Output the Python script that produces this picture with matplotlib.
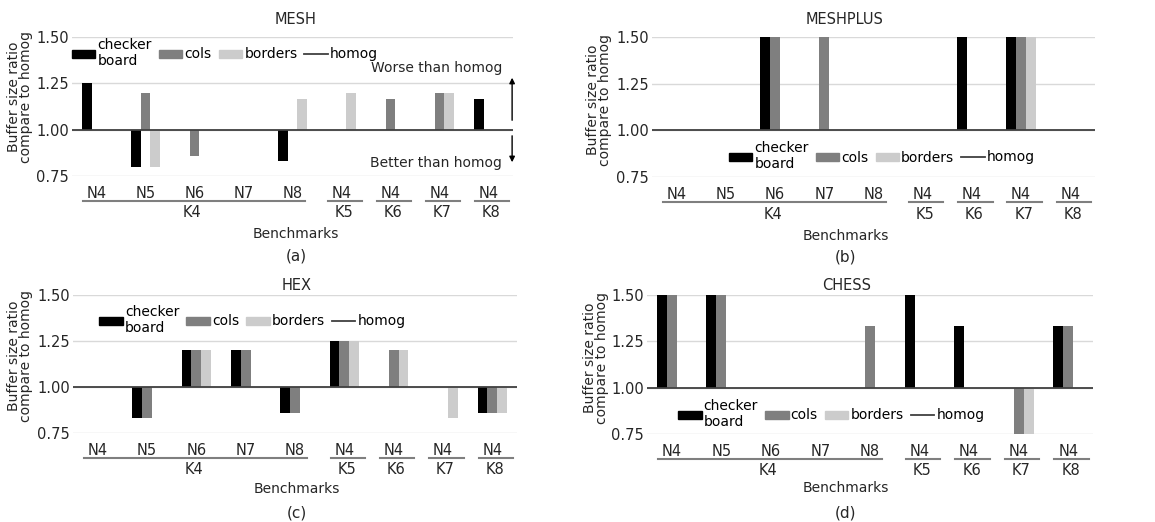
import matplotlib.pyplot as plt
from matplotlib.patches import Patch
from matplotlib.lines import Line2D

# benchmark categories (N label on axis, K group below)
n_labels = ['N4', 'N5', 'N6', 'N7', 'N8', 'N4', 'N4', 'N4', 'N4']
k_groups = [('K4', 0, 4), ('K5', 5, 5), ('K6', 6, 6), ('K7', 7, 7), ('K8', 8, 8)]
series_names = ['checker\nboard', 'cols', 'borders']
y_ticks = [0.75, 1.00, 1.25, 1.50]

# buffer size ratio vs homog, per layout
mesh_checker = [1.25, 0.80, 1.00, 1.00, 0.833, 1.00, 1.00, 1.00, 1.167]
mesh_cols = [1.00, 1.20, 0.857, 1.00, 1.00, 1.00, 1.167, 1.20, 1.00]
mesh_borders = [1.00, 0.80, 1.00, 1.00, 1.167, 1.20, 1.00, 1.20, 1.00]

meshplus_checker = [1.00, 1.00, 1.50, 1.00, 1.00, 1.00, 1.50, 1.50, 1.00]
meshplus_cols = [1.00, 1.00, 1.50, 1.50, 1.00, 1.00, 1.00, 1.50, 1.00]
meshplus_borders = [1.00, 1.00, 1.00, 1.00, 1.00, 1.00, 1.00, 1.50, 1.00]

hex_checker = [1.00, 0.833, 1.20, 1.20, 0.857, 1.25, 1.00, 1.00, 0.857]
hex_cols = [1.00, 0.833, 1.20, 1.20, 0.857, 1.25, 1.20, 1.00, 0.857]
hex_borders = [1.00, 1.00, 1.20, 1.00, 1.00, 1.25, 1.20, 0.833, 0.857]

chess_checker = [1.50, 1.50, 1.00, 1.00, 1.00, 1.50, 1.333, 1.00, 1.333]
chess_cols = [1.50, 1.50, 1.00, 1.00, 1.333, 1.00, 1.00, 0.75, 1.333]
chess_borders = [1.00, 1.00, 1.00, 1.00, 1.00, 1.00, 1.00, 0.75, 1.00]

homog = 1.0

colors = ['#000000', '#7f7f7f', '#cccccc']
W, H = 1155, 522


def fx(px):
    return px / W


def fy(py):
    return 1 - py / H


plt.rcParams['font.family'] = ['DejaVu Sans']
fig = plt.figure(figsize=(W / 100, H / 100), dpi=100)


def panel(box, series, title, cap, title_xy, xlab_xy, cap_xy, ylab_xy, leg_xy):
    left, right, top, bottom = box
    ax = fig.add_axes([fx(left), fy(bottom), (right - left) / W, (bottom - top) / H])
    x = list(range(len(n_labels)))
    for j, vals in enumerate(series):
        off = (j - 1) * 0.2
        ax.bar([i + off for i in x], [v - homog for v in vals], width=0.2,
               bottom=homog, color=colors[j], zorder=2)
    ax.plot([-0.5, len(x) - 0.5], [homog, homog], color='#404040', lw=1.3, zorder=3)
    ax.set_xlim(-0.5, len(x) - 0.5)
    ax.set_ylim(0.75, 1.5)
    ax.set_yticks(y_ticks)
    ax.set_yticklabels(['%.2f' % t for t in y_ticks])
    ax.set_xticks(x)
    ax.set_xticklabels(n_labels)
    ax.tick_params(length=0, labelsize=10.5, colors='#262626')
    ax.tick_params(axis='x', pad=7)
    ax.tick_params(axis='y', pad=2)
    ax.grid(axis='y', color='#d9d9d9', lw=1, zorder=0)
    ax.set_axisbelow(True)
    for s in ax.spines.values():
        s.set_visible(False)

    trans = ax.get_xaxis_transform()
    for name, a, b in k_groups:
        x0 = a - 0.28
        x1 = b + 0.42 if a == b else b + 0.25
        ax.plot([x0, x1], [-0.18, -0.18], color='#7f7f7f', lw=1.5,
                transform=trans, clip_on=False)
        ax.text((a + b) / 2 + (0.05 if a == b else -0.05), -0.265, name,
                transform=trans, ha='center', va='center', fontsize=10.5,
                color='#262626')

    handles = [Patch(color=c) for c in colors]
    handles.append(Line2D([0], [0], color='#404040', lw=1.3))
    ax.legend(handles, series_names + ['homog'], ncol=4, frameon=False,
              loc='center', bbox_to_anchor=leg_xy, fontsize=10,
              handlelength=1.7, handleheight=0.5, handletextpad=0.15,
              columnspacing=0.5, borderpad=0, labelspacing=0)

    fig.text(fx(title_xy[0]), fy(title_xy[1]), title, ha='center', va='center',
             fontsize=10.5, color='#262626')
    fig.text(fx(xlab_xy[0]), fy(xlab_xy[1]), 'Benchmarks', ha='center',
             va='center', fontsize=10, color='#262626')
    fig.text(fx(cap_xy[0]), fy(cap_xy[1]), cap, ha='center', va='center',
             fontsize=11, color='#262626')
    fig.text(fx(ylab_xy[0]), fy(ylab_xy[1]), 'Buffer size ratio\ncompare to homog',
             ha='center', va='center', rotation=90, fontsize=10,
             linespacing=0.8, color='#262626')
    return ax


ax_a = panel((72, 513, 37, 176), [mesh_checker, mesh_cols, mesh_borders],
             'MESH', '(a)', (296, 19), (296, 234), (296, 256), (20, 97),
             (0.347, 0.885))
panel((652, 1095, 37, 177), [meshplus_checker, meshplus_cols, meshplus_borders],
      'MESHPLUS', '(b)', (845, 19), (846, 236), (846, 257), (599, 100),
      (0.519, 0.15))
panel((73, 517, 295, 433), [hex_checker, hex_cols, hex_borders],
      'HEX', '(c)', (297, 285), (297, 489), (297, 513), (20, 356),
      (0.404, 0.819))
panel((647, 1093, 295, 434), [chess_checker, chess_cols, chess_borders],
      'CHESS', '(d)', (847, 285), (846, 488), (846, 513), (596, 358),
      (0.413, 0.144))

# worse / better annotations on MESH
ax_a.text(0.975, 0.777, 'Worse than homog', transform=ax_a.transAxes,
          ha='right', va='center', fontsize=10, color='#262626')
ax_a.text(0.975, 0.094, 'Better than homog', transform=ax_a.transAxes,
          ha='right', va='center', fontsize=10, color='#262626')
ax_a.annotate('', xy=(0.998, 0.727), xytext=(0.998, 0.381), xycoords='axes fraction',
              arrowprops=dict(arrowstyle='-|>', color='black', lw=1, mutation_scale=8))
ax_a.annotate('', xy=(0.998, 0.079), xytext=(0.998, 0.309), xycoords='axes fraction',
              arrowprops=dict(arrowstyle='-|>', color='black', lw=1, mutation_scale=8))

fig.savefig('out.png', dpi=100)
